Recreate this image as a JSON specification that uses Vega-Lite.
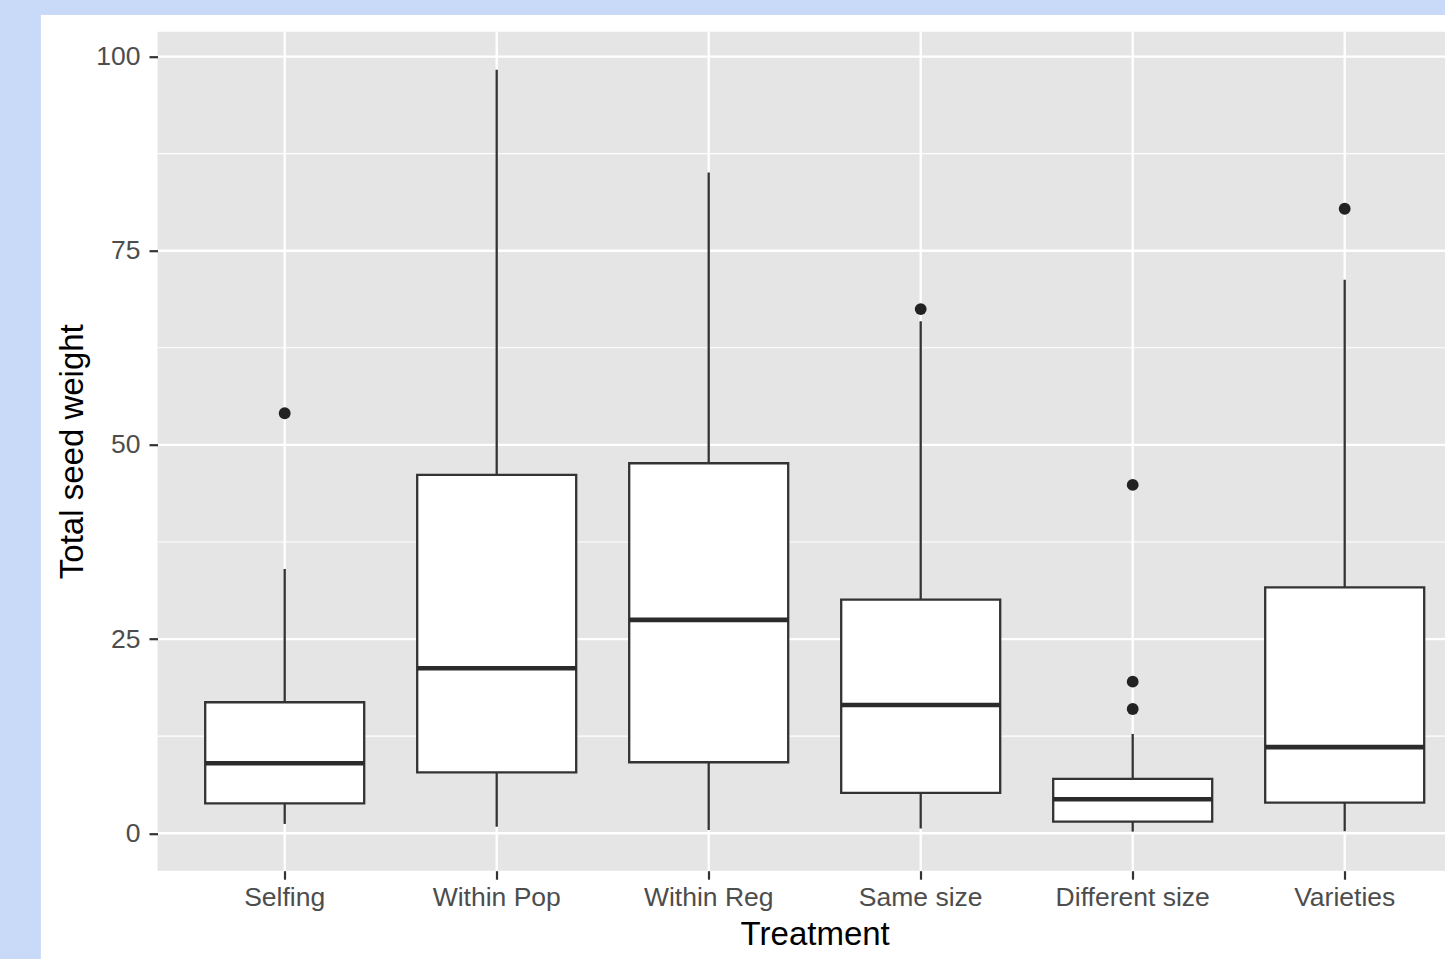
{
  "$schema": "https://vega.github.io/schema/vega-lite/v6.json",
  "width": 1287.5,
  "height": 839,
  "autosize": {"type": "none"},
  "padding": {"left": 157.5, "top": 31.7, "right": 0, "bottom": 88.3},
  "background": "#c9daf8",
  "datasets": {
    "boxes": [
      {"Treatment": "Selfing", "low": 1.2, "q1": 3.86, "median": 9.01, "q3": 16.87, "high": 34.03},
      {"Treatment": "Within Pop", "low": 0.85, "q1": 7.85, "median": 21.25, "q3": 46.14, "high": 98.29},
      {"Treatment": "Within Reg", "low": 0.42, "q1": 9.14, "median": 27.47, "q3": 47.64, "high": 85.06},
      {"Treatment": "Same size", "low": 0.6, "q1": 5.21, "median": 16.52, "q3": 30.09, "high": 65.91},
      {"Treatment": "Different size", "low": 0.21, "q1": 1.5, "median": 4.38, "q3": 6.99, "high": 12.79},
      {"Treatment": "Varieties", "low": 0.27, "q1": 3.95, "median": 11.09, "q3": 31.66, "high": 71.26}
    ],
    "outliers": [
      {"Treatment": "Selfing", "value": 54.08},
      {"Treatment": "Same size", "value": 67.49},
      {"Treatment": "Different size", "value": 16.0},
      {"Treatment": "Different size", "value": 19.52},
      {"Treatment": "Different size", "value": 44.85},
      {"Treatment": "Varieties", "value": 80.41}
    ],
    "gridMajor": [{"v": 0}, {"v": 25}, {"v": 50}, {"v": 75}, {"v": 100}],
    "gridMinor": [{"v": 12.5}, {"v": 37.5}, {"v": 62.5}, {"v": 87.5}]
  },
  "config": {
    "view": {"stroke": null, "fill": null},
    "axis": {
      "domain": false,
      "grid": false,
      "ticks": true,
      "tickColor": "#333333",
      "tickWidth": 2.2,
      "tickSize": 8.5,
      "labelColor": "#4d4d4d",
      "labelFont": "Liberation Sans",
      "labelFontSize": 26.5,
      "titleFont": "Liberation Sans",
      "titleFontSize": 33,
      "titleFontWeight": "normal",
      "titleColor": "#000000"
    },
    "axisX": {"labelAngle": 0, "labelPadding": 5, "titlePadding": 8},
    "axisY": {"labelPadding": 9, "titlePadding": 6}
  },
  "layer": [
    {
      "data": {"values": [{}]},
      "mark": {"type": "bar", "fill": "#ffffff", "width": {"band": 8.3}},
      "encoding": {
        "x": {"datum": "Same size", "type": "nominal",
              "axis": {"title": "Treatment", "zindex": 2},
              "scale": {"domain": ["Selfing", "Within Pop", "Within Reg", "Same size", "Different size", "Varieties"], "range": [0, 1314.4], "paddingInner": 0, "paddingOuter": 0.1}},
        "y": {"datum": 105.35, "type": "quantitative",
              "axis": {"title": "Total seed weight", "values": [0, 25, 50, 75, 100], "zindex": 2},
              "scale": {"domain": [-4.82, 103.2], "nice": false, "zero": false}},
        "y2": {"datum": -20}
      }
    },
    {
      "data": {"values": [{}]},
      "mark": {"type": "rect", "fill": "#e5e5e5"},
      "encoding": {
        "y": {"datum": 103.2, "type": "quantitative",
              "axis": {"title": "Total seed weight", "values": [0, 25, 50, 75, 100], "zindex": 2},
              "scale": {"domain": [-4.82, 103.2], "nice": false, "zero": false}},
        "y2": {"datum": -4.82}
      }
    },
    {
      "data": {"name": "gridMinor"},
      "mark": {"type": "rule", "color": "#ffffff", "strokeWidth": 1.1},
      "encoding": {
        "y": {"field": "v", "type": "quantitative",
              "axis": {"title": "Total seed weight", "values": [0, 25, 50, 75, 100], "zindex": 2},
              "scale": {"domain": [-4.82, 103.2], "nice": false, "zero": false}}
      }
    },
    {
      "data": {"name": "gridMajor"},
      "mark": {"type": "rule", "color": "#ffffff", "strokeWidth": 2.3},
      "encoding": {
        "y": {"field": "v", "type": "quantitative",
              "axis": {"title": "Total seed weight", "values": [0, 25, 50, 75, 100], "zindex": 2},
              "scale": {"domain": [-4.82, 103.2], "nice": false, "zero": false}}
      }
    },
    {
      "data": {"name": "boxes"},
      "mark": {"type": "rule", "color": "#ffffff", "strokeWidth": 2.3},
      "encoding": {
        "x": {"field": "Treatment", "type": "nominal",
              "axis": {"title": "Treatment", "zindex": 2},
              "scale": {"domain": ["Selfing", "Within Pop", "Within Reg", "Same size", "Different size", "Varieties"], "range": [0, 1314.4], "paddingInner": 0, "paddingOuter": 0.1}}
      }
    },
    {
      "data": {"name": "boxes"},
      "mark": {"type": "rule", "color": "#333333", "strokeWidth": 2.3},
      "encoding": {
        "x": {"field": "Treatment", "type": "nominal",
              "axis": {"title": "Treatment", "zindex": 2},
              "scale": {"domain": ["Selfing", "Within Pop", "Within Reg", "Same size", "Different size", "Varieties"], "range": [0, 1314.4], "paddingInner": 0, "paddingOuter": 0.1}},
        "y": {"field": "low", "type": "quantitative",
              "axis": {"title": "Total seed weight", "values": [0, 25, 50, 75, 100], "zindex": 2},
              "scale": {"domain": [-4.82, 103.2], "nice": false, "zero": false}},
        "y2": {"field": "high"}
      }
    },
    {
      "data": {"name": "boxes"},
      "mark": {"type": "bar", "fill": "#ffffff", "stroke": "#333333", "strokeWidth": 2.3, "width": {"band": 0.75}},
      "encoding": {
        "x": {"field": "Treatment", "type": "nominal",
              "axis": {"title": "Treatment", "zindex": 2},
              "scale": {"domain": ["Selfing", "Within Pop", "Within Reg", "Same size", "Different size", "Varieties"], "range": [0, 1314.4], "paddingInner": 0, "paddingOuter": 0.1}},
        "y": {"field": "q1", "type": "quantitative",
              "axis": {"title": "Total seed weight", "values": [0, 25, 50, 75, 100], "zindex": 2},
              "scale": {"domain": [-4.82, 103.2], "nice": false, "zero": false}},
        "y2": {"field": "q3"}
      }
    },
    {
      "data": {"name": "boxes"},
      "mark": {"type": "tick", "color": "#2b2b2b", "size": 159, "thickness": 4.6, "opacity": 1},
      "encoding": {
        "x": {"field": "Treatment", "type": "nominal",
              "axis": {"title": "Treatment", "zindex": 2},
              "scale": {"domain": ["Selfing", "Within Pop", "Within Reg", "Same size", "Different size", "Varieties"], "range": [0, 1314.4], "paddingInner": 0, "paddingOuter": 0.1}},
        "y": {"field": "median", "type": "quantitative",
              "axis": {"title": "Total seed weight", "values": [0, 25, 50, 75, 100], "zindex": 2},
              "scale": {"domain": [-4.82, 103.2], "nice": false, "zero": false}}
      }
    },
    {
      "data": {"name": "outliers"},
      "mark": {"type": "circle", "color": "#222222", "size": 140, "opacity": 1},
      "encoding": {
        "x": {"field": "Treatment", "type": "nominal",
              "axis": {"title": "Treatment", "zindex": 2},
              "scale": {"domain": ["Selfing", "Within Pop", "Within Reg", "Same size", "Different size", "Varieties"], "range": [0, 1314.4], "paddingInner": 0, "paddingOuter": 0.1}},
        "y": {"field": "value", "type": "quantitative",
              "axis": {"title": "Total seed weight", "values": [0, 25, 50, 75, 100], "zindex": 2},
              "scale": {"domain": [-4.82, 103.2], "nice": false, "zero": false}}
      }
    }
  ]
}
